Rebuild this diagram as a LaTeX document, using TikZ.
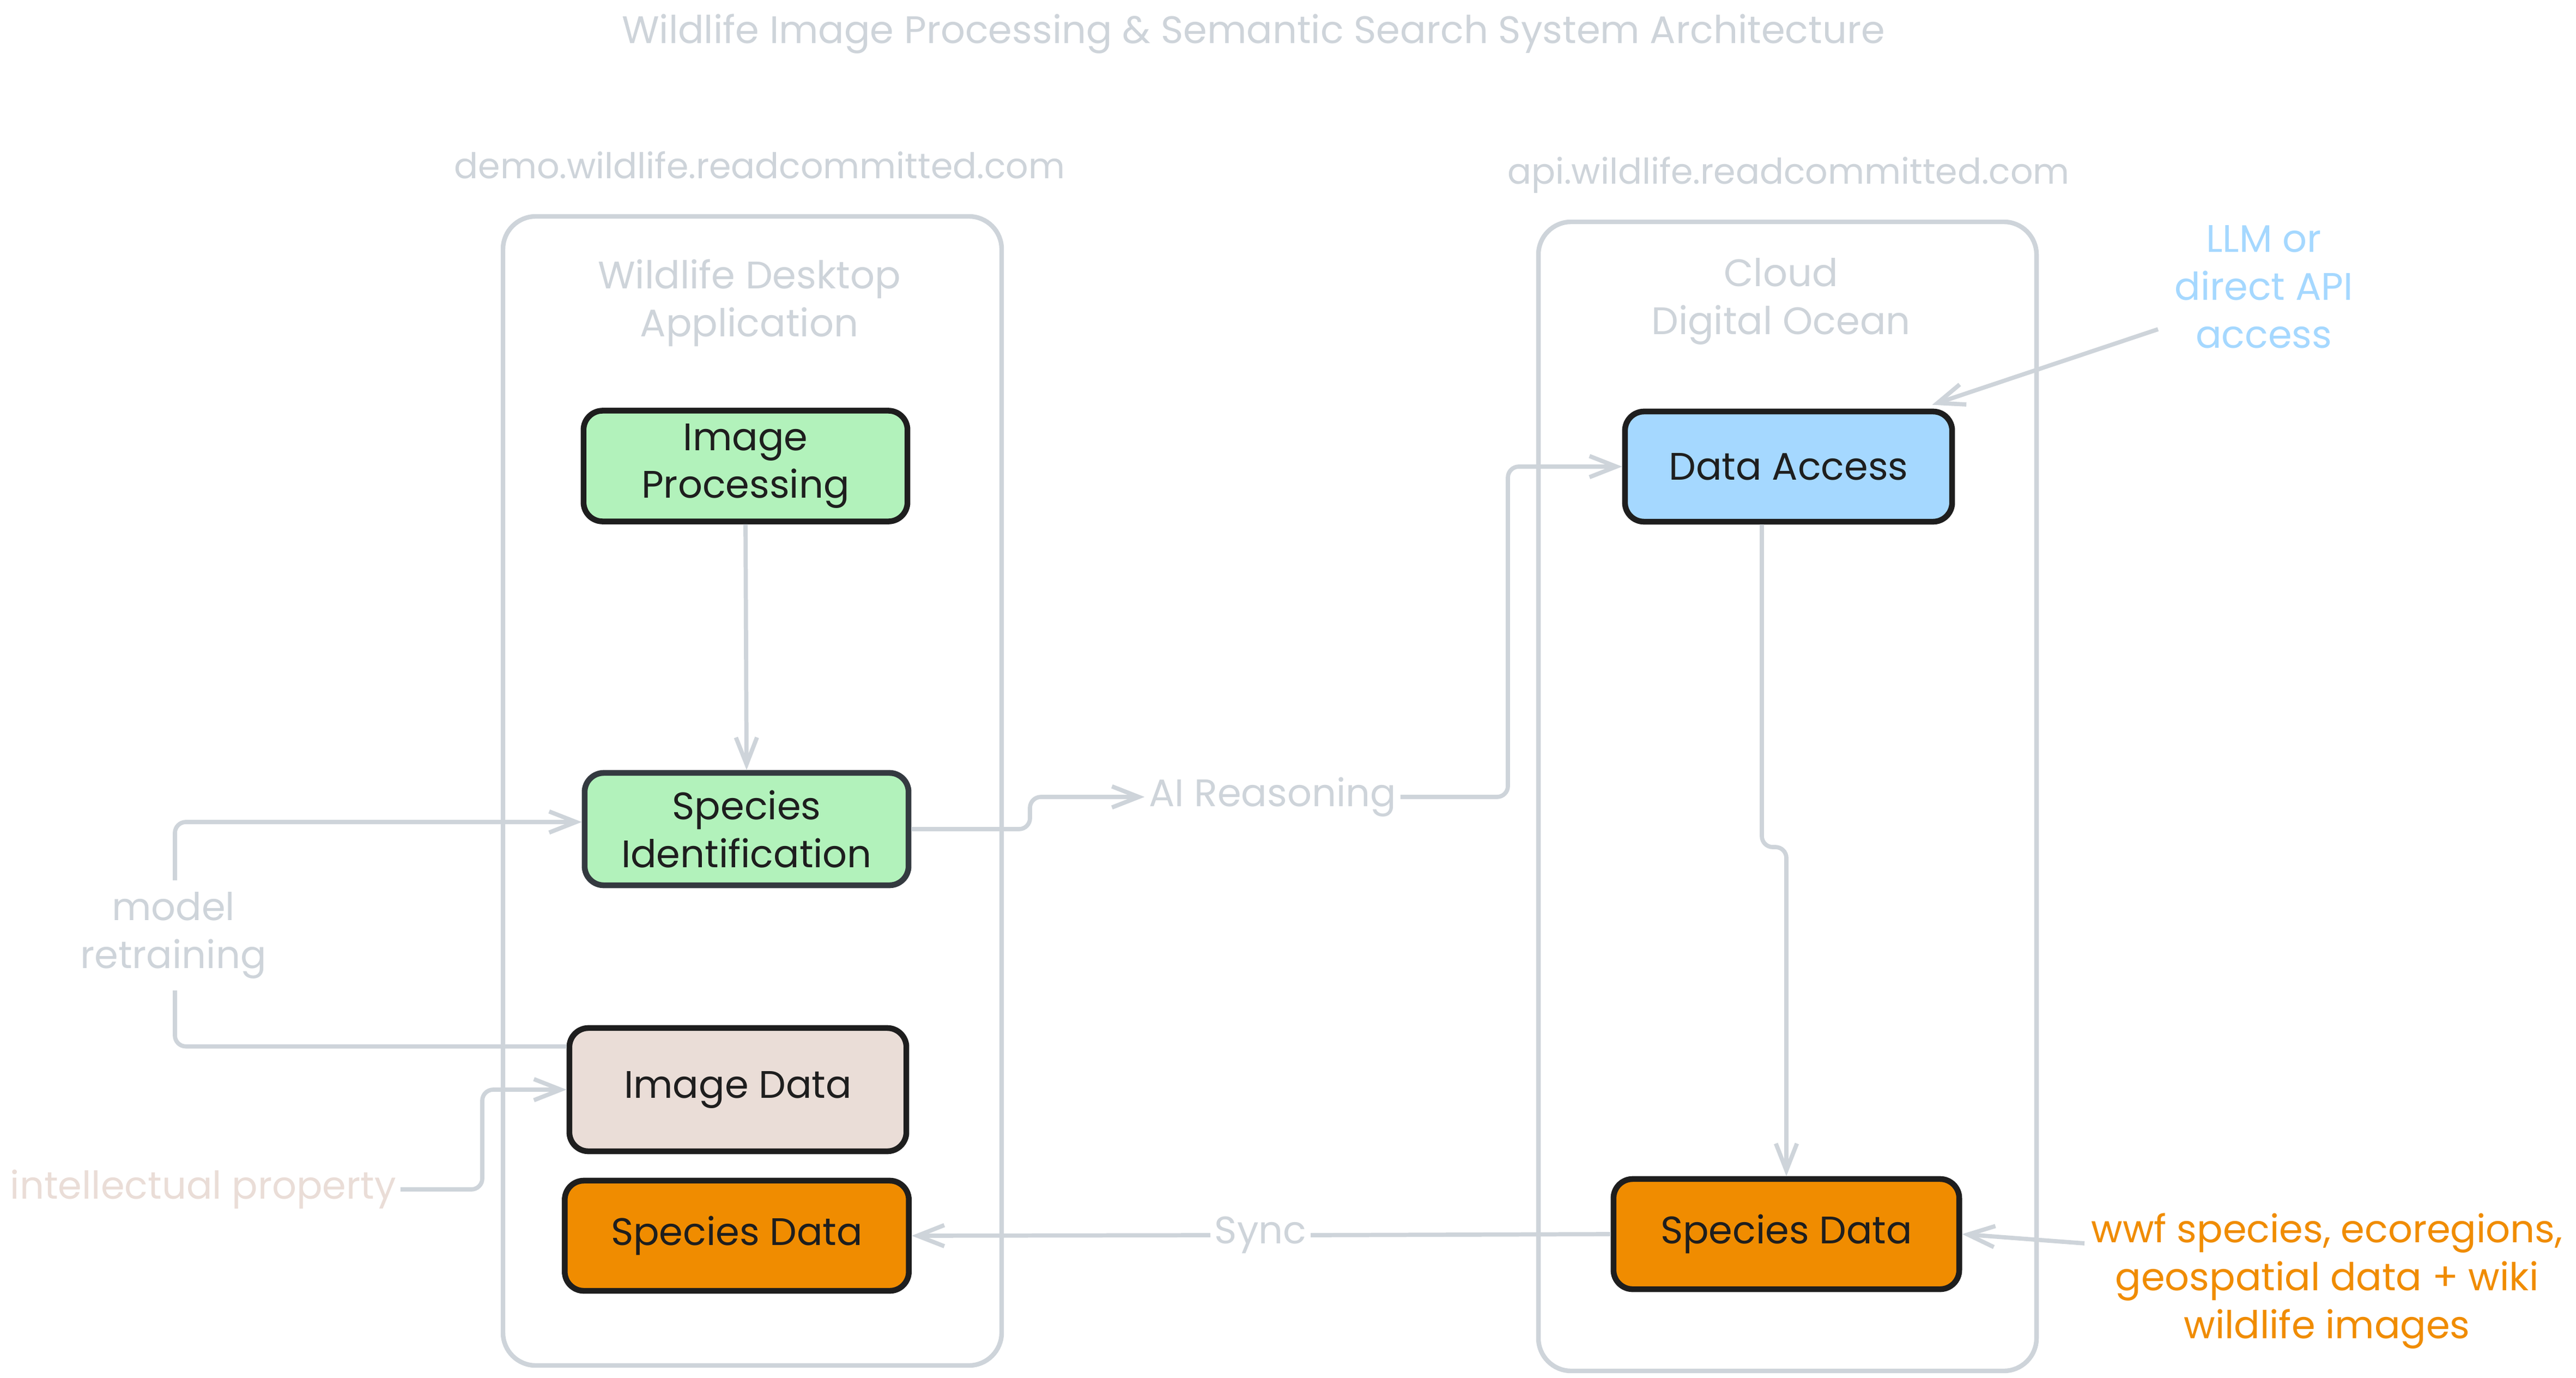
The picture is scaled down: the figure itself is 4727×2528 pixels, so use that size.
\documentclass[tikz,border=0pt]{standalone}
\usepackage{fontspec}
\setmainfont{Poppins}
\usetikzlibrary{arrows.meta}
\definecolor{lgray}{HTML}{CED4DA}
\definecolor{ink}{HTML}{1E1E1E}
\definecolor{inkb}{HTML}{343A40}
\definecolor{gfill}{HTML}{B2F2BB}
\definecolor{bfill}{HTML}{A5D8FF}
\definecolor{ofill}{HTML}{F08C00}
\definecolor{pfill}{HTML}{EADDD7}
\begin{document}
\begin{tikzpicture}[x=0.01cm,y=-0.01cm,
  every node/.style={font=\fontsize{20}{25}\selectfont, align=center},
  box/.style={draw=ink, line width=3pt, rounded corners=0.35cm, text=ink, inner sep=0pt},
  cont/.style={draw=lgray, line width=2.4pt, rounded corners=0.6cm},
  conn/.style={draw=lgray, line width=2.2pt, rounded corners=0.2cm},
  arr/.style={conn, -{Straight Barb[length=14pt,width=11pt]}},
  lab/.style={text=lgray, inner sep=2pt},
  domlab/.style={lab, font=\fontsize{18.5}{23}\selectfont}]
\fill[white] (0,0) rectangle (4727,2528);
\useasboundingbox (0,0) rectangle (4727,2528);

% title and domains
\node[lab] (title) at (2300,62) {Wildlife Image Processing \& Semantic Search System Architecture};
\node[domlab] (demo) at (1394,303) {demo.wildlife.readcommitted.com};
\node[domlab] (api) at (3282,321) {api.wildlife.readcommitted.com};

% containers
\draw[cont] (923,397) rectangle (1838,2505);
\draw[cont] (2823,407) rectangle (3737,2515);
\node[lab] (desk) at (1375,556) {Wildlife Desktop\\Application};
\node[lab] (cloud) at (3268,553) {Cloud\\Digital Ocean};

% boxes
\node[box, fill=gfill, minimum width=5.94cm, minimum height=2.03cm] (ip) at (1368,855) {Image\\Processing};
\node[box, draw=inkb, fill=gfill, minimum width=5.94cm, minimum height=2.06cm] (si) at (1370,1521) {Species\\Identification};
\node[box, fill=pfill, minimum width=6.18cm, minimum height=2.26cm] (idata) at (1354,1999) {Image Data};
\node[box, fill=ofill, minimum width=6.31cm, minimum height=2.02cm] (sdl) at (1352,2267) {Species Data};
\node[box, fill=bfill, minimum width=6.00cm, minimum height=2.02cm] (da) at (3282,856) {Data Access};
\node[box, fill=ofill, minimum width=6.34cm, minimum height=2.02cm] (sdr) at (3278,2264) {Species Data};

% side texts
\node[text=bfill] (llm) at (4154,526) {LLM or\\direct API\\access};
\node[text=ofill] (wwf) at (4270,2350) {wwf species, ecoregions,\\geospatial data + wiki\\wildlife images};
\node[text=pfill, inner sep=2pt] (ipr) at (373,2182) {intellectual property};

% connector labels
\node[lab] (ai) at (2335,1462) {AI Reasoning};
\node[lab] (sync) at (2313,2266) {Sync};

% helper coordinates
\coordinate (j1) at (1890,0);
\coordinate (jx) at (2767,0);
\coordinate (j2) at (3233,1554);
\coordinate (mx) at (321,0);
\coordinate (ix) at (885,0);
\coordinate (llmstart) at (3960,604);
\coordinate (wstart) at (3825,2281);

% connectors
\draw[arr] (ip.south) -- (si.north);
\draw[arr] (si.east) -- (si.east -| j1) -- (j1 |- ai.west) -- (ai.west);
\draw[arr] (ai.east) -- (ai.east -| jx) -- (jx |- da.west) -- (da.west);
\draw[arr] (da.south -| j2) -- (j2) -- (j2 -| sdr.north) -- (sdr.north);
\draw[arr] (llmstart) -- ([xshift=-0.42cm,yshift=0.07cm]da.north east);
\draw[arr] (wstart) -- (sdr.east);
\draw[conn] (sdr.west) -- (sync.east);
\draw[arr] (sync.west) -- (sdl.east);
\draw[arr] ([yshift=-0.39cm]idata.north west) -- ([yshift=-0.39cm]idata.north west -| mx) -- ([yshift=0.13cm]mx |- si.west) -- ([yshift=0.13cm]si.west);
\draw[arr] (ipr.east) -- (ipr.east -| ix) -- (ix |- idata.west) -- (idata.west);
\node[lab, fill=white, inner sep=6pt] (mr) at (318,1716) {model\\retraining};
\end{tikzpicture}
\end{document}
